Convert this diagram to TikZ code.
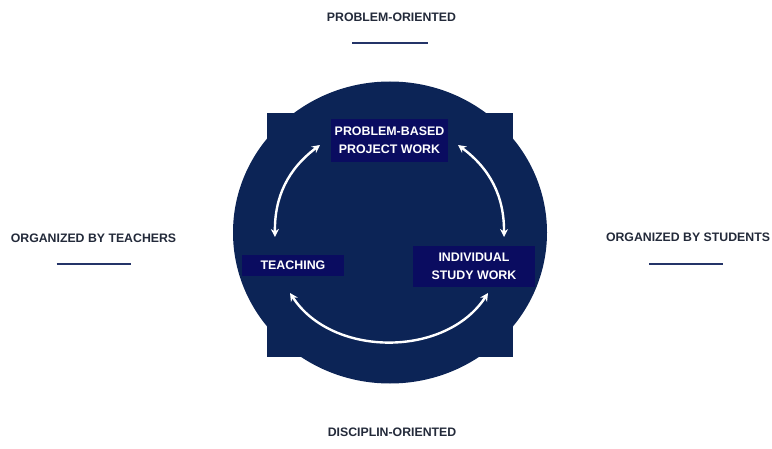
\documentclass[tikz,border=0pt]{standalone}
\usepackage{fontspec}
\setmainfont{Liberation Sans}
\usepackage{tikz}
\usetikzlibrary{positioning,arrows.meta}
\definecolor{navy}{RGB}{12,36,86}
\definecolor{boxblue}{RGB}{10,12,96}
\definecolor{labelgray}{RGB}{35,42,58}
\definecolor{barblue}{RGB}{36,52,104}

\begin{document}
\begin{tikzpicture}[x=1pt, y=1pt,
	box/.style={fill=boxblue, text=white, font=\bfseries\fontsize{12.4}{18}\selectfont, align=center, inner sep=0pt},
	side/.style={text=labelgray, font=\bfseries\fontsize{12.3}{14}\selectfont},
	cyc/.style={<->, >={Stealth[length=8pt, width=8pt]}, line width=2.4pt, white},
	bar/.style={line width=2pt, barblue}]
	\useasboundingbox (0,0) rectangle (772,448);
	% round plate with square corners
	\fill[navy] (390,215.5) ellipse [x radius=157, y radius=151];
	\fill[navy] (267,91) rectangle (513,335);
	
	\node[box, minimum width=117, minimum height=43] (pbl) at (389.5,307.5) {PROBLEM-BASED\\PROJECT WORK};
	\node[box, minimum width=102, minimum height=21] (teach) at (293,182.5) {TEACHING};
	\node[box, minimum width=122, minimum height=41] (isw) at (474,181.5) {INDIVIDUAL\\STUDY WORK};
	
	\coordinate (a1) at (320,303);
	\coordinate (b1) at (275,211);
	\coordinate (a2) at (458,303);
	\coordinate (b2) at (504,211);
	\coordinate (a3) at (290,155);
	\coordinate (b3) at (488,155);
	\draw [cyc] (a1) to[bend right=27] (b1);
	\draw [cyc] (a2) to[bend left=27] (b2);
	\draw [cyc] (a3) to[bend right=57] (b3);
	
	% outer labels
	\node[side] (top) at (391.5,431) {PROBLEM-ORIENTED};
	\node[side] (left) at (93.5,210) {ORGANIZED BY TEACHERS};
	\node[side] (right) at (688,211) {ORGANIZED BY STUDENTS};
	\node[side] (bottom) at (392,16) {DISCIPLIN-ORIENTED};
	\coordinate[below=18pt of top, xshift=-1.5pt] (topbar);
	\coordinate[below=18pt of left] (leftbar);
	\coordinate[below=19pt of right, xshift=-2pt] (rightbar);
	\draw [bar] ([xshift=-38pt] topbar) -- ([xshift=38pt] topbar);
	\draw [bar] ([xshift=-37pt] leftbar) -- ([xshift=37pt] leftbar);
	\draw [bar] ([xshift=-37pt] rightbar) -- ([xshift=37pt] rightbar);
\end{tikzpicture}
\end{document}
